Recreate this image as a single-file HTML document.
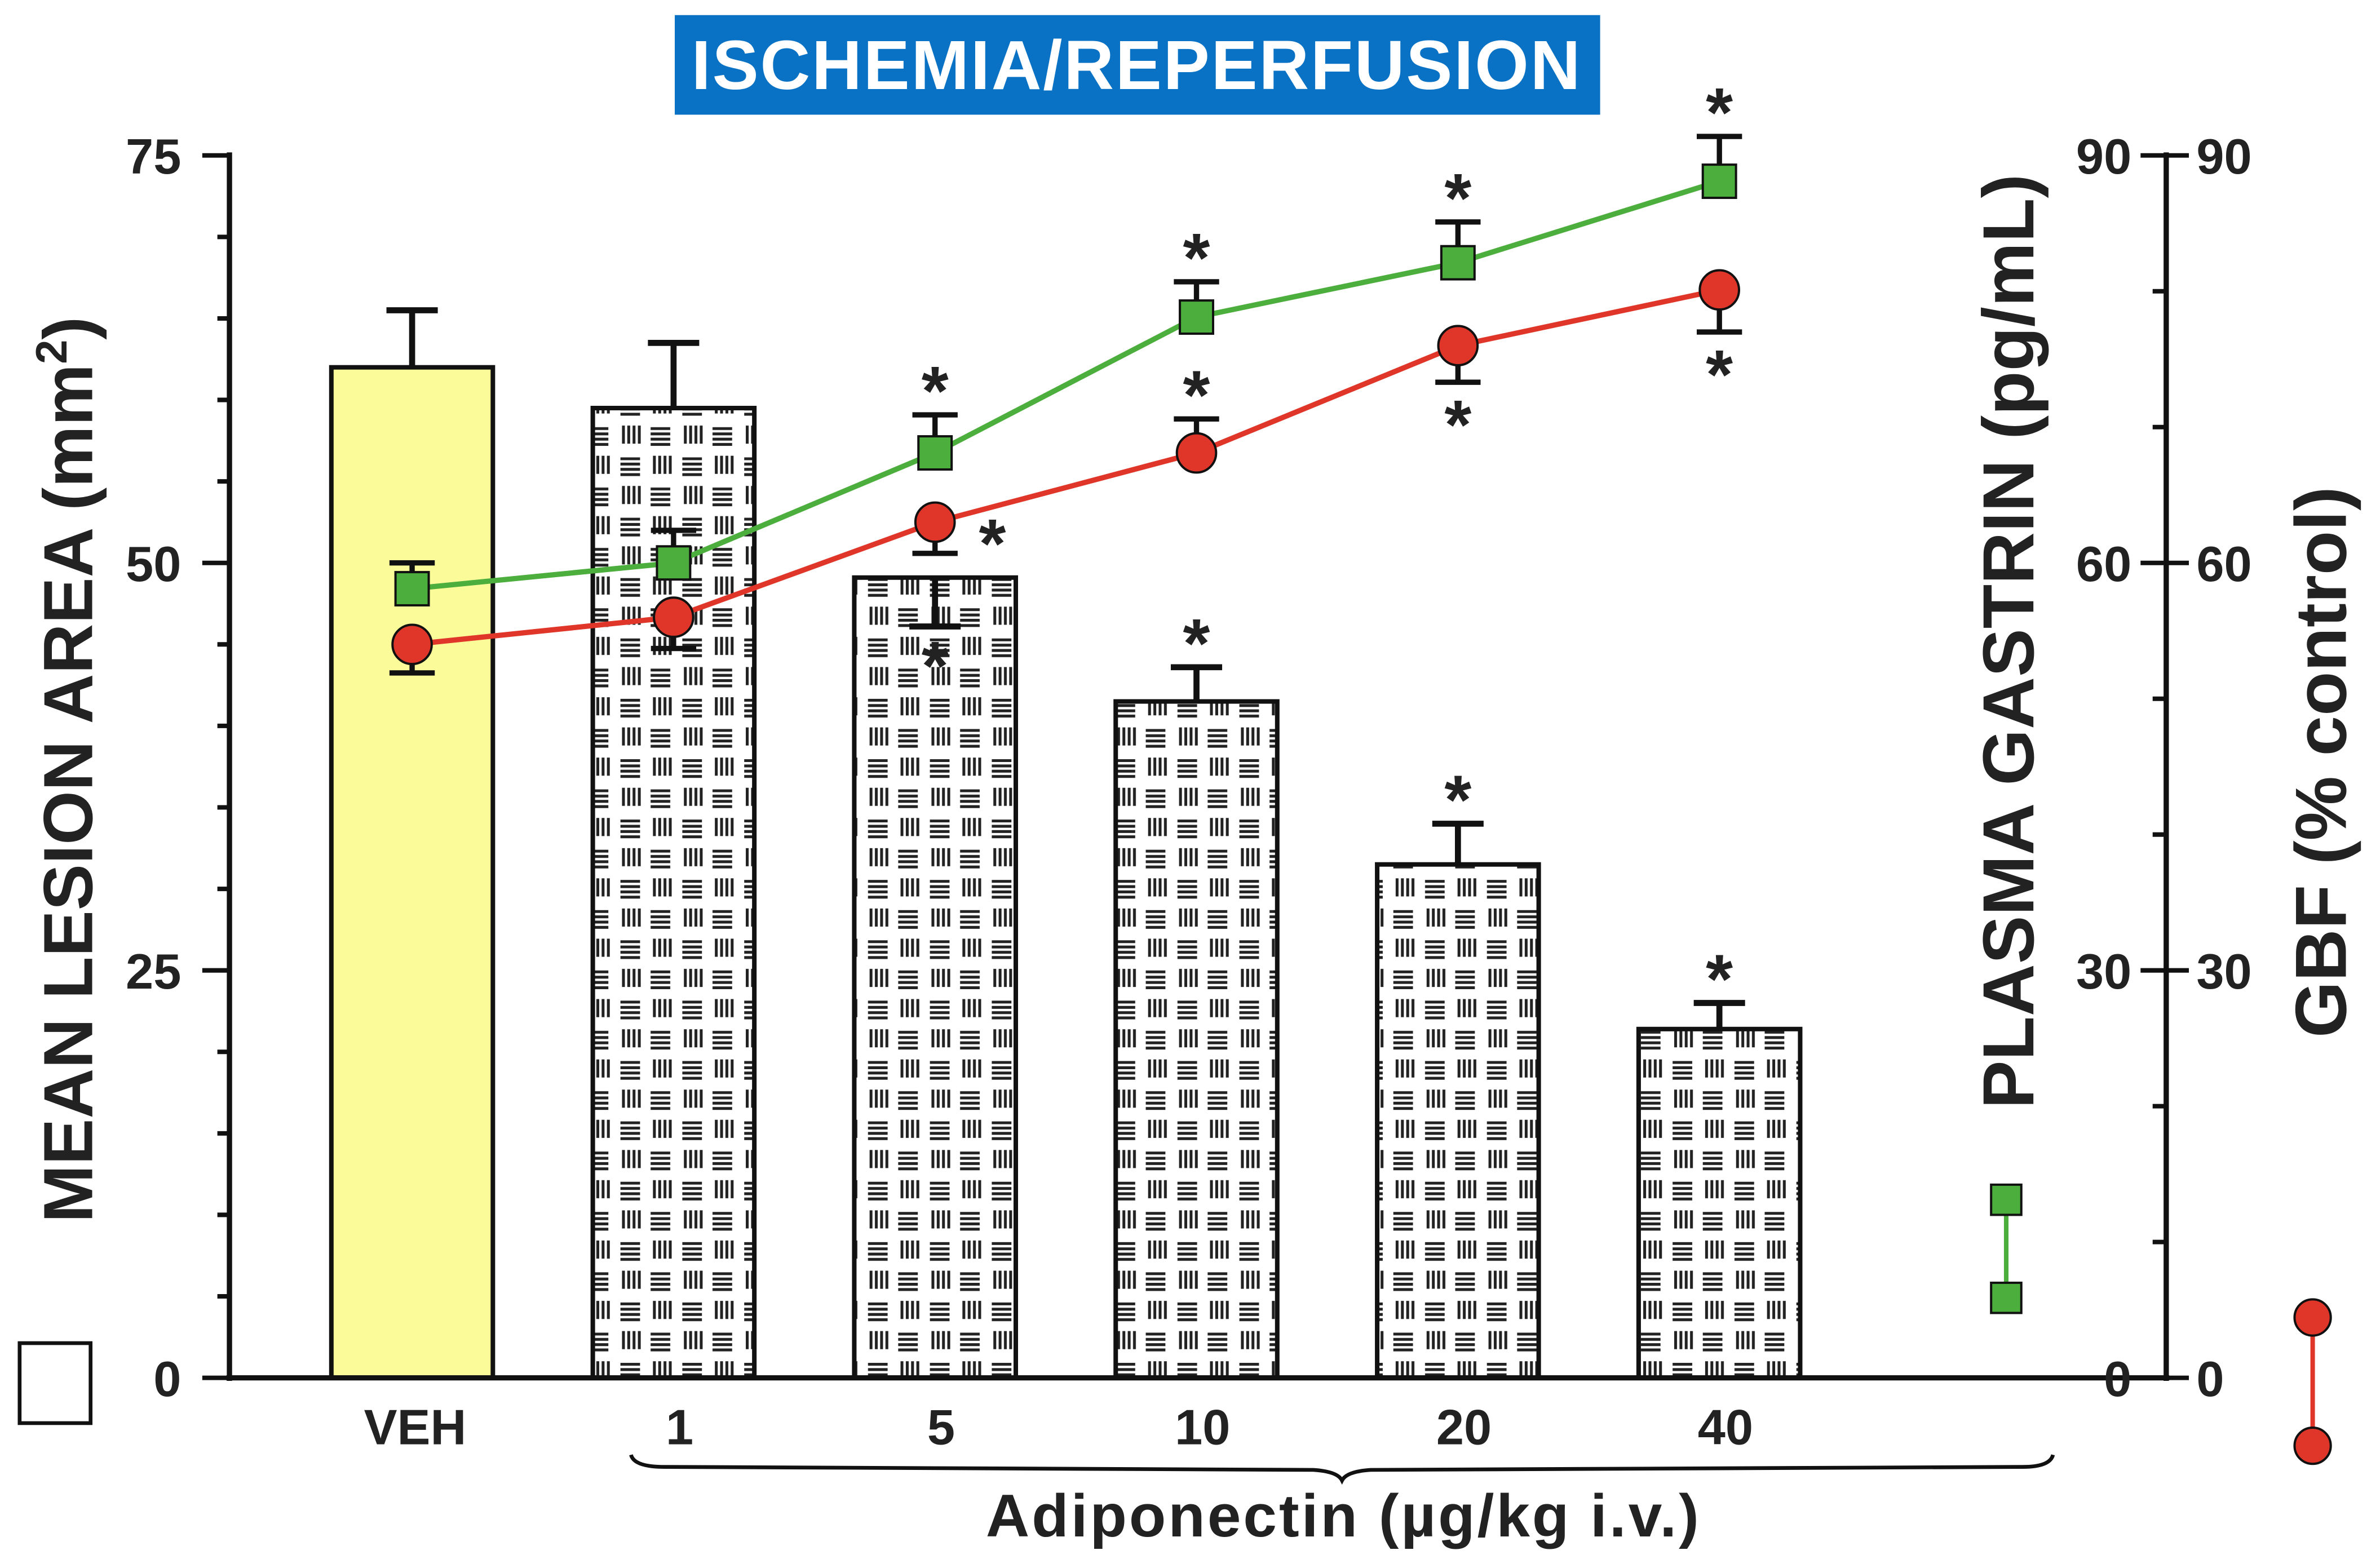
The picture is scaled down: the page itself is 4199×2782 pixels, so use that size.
<!DOCTYPE html>
<html><head><meta charset="utf-8"><style>
html,body{margin:0;padding:0;background:#fff;}
svg{display:block;}
text{font-family:"Liberation Sans",sans-serif;font-weight:bold;fill:#222;}
</style></head><body>
<svg id="chart" width="4199" height="2782" viewBox="0 0 1568 1039" preserveAspectRatio="none" xmlns="http://www.w3.org/2000/svg">
<defs>
<pattern id="hatch" patternUnits="userSpaceOnUse" width="41" height="40" x="0" y="0">
<g stroke="#222" stroke-width="1.9">
<path d="M3 2v12M6.5 2v12M10 2v12M13.5 2v12"/>
<path d="M21 4h13M21 7.5h13M21 11h13M21 14.5h13"/>
<path d="M23.5 22v12M27 22v12M30.5 22v12M34 22v12"/>
<path d="M1 24h13M1 27.5h13M1 31h13M1 34.5h13"/>
</g>
</pattern>
</defs>
<rect x="447" y="10" width="613" height="66" fill="#0a72c4"/>
<text x="753" y="59" font-size="46" letter-spacing="1" text-anchor="middle" style="fill:#fff">ISCHEMIA/REPERFUSION</text>
<g id="bars"></g>
<g id="lines"></g>
<g id="axes" stroke="#111" stroke-width="3.5" fill="none">
<line x1="152" y1="101" x2="152" y2="915"/>
<line x1="150" y1="913" x2="1437" y2="913"/>
<line x1="1435" y1="101" x2="1435" y2="915"/>
</g>
<g id="ticks" stroke="#111" stroke-width="3"></g>
<g id="ticklabels"></g>
<text transform="translate(61,510) rotate(-90)" font-size="46" text-anchor="middle">MEAN LESION AREA (mm<tspan font-size="29" dy="-17">2</tspan><tspan dy="17">)</tspan></text>
<text transform="translate(1347,425) rotate(-90)" font-size="48" text-anchor="middle">PLASMA GASTRIN (pg/mL)</text>
<text transform="translate(1554,505) rotate(-90)" font-size="48" text-anchor="middle">GBF (% control)</text>
<rect x="13" y="890" width="47" height="53" fill="#fff" stroke="#111" stroke-width="2.5"/>
<g>
<line x1="1329" y1="795" x2="1329" y2="860" stroke="#4cae3c" stroke-width="3"/>
<rect x="1319" y="785" width="20" height="20" fill="#4cae3c" stroke="#111" stroke-width="1.5"/>
<rect x="1319" y="850" width="20" height="20" fill="#4cae3c" stroke="#111" stroke-width="1.5"/>
</g>
<g>
<line x1="1532" y1="873" x2="1532" y2="958" stroke="#e0362a" stroke-width="3"/>
<circle cx="1532" cy="873" r="12" fill="#e0362a" stroke="#111" stroke-width="1.5"/>
<circle cx="1532" cy="958" r="12" fill="#e0362a" stroke="#111" stroke-width="1.5"/>
</g>
<path d="M418 964 Q420 972 440 972 L870 974 Q886 975 889 981 Q892 975 908 974 L1340 972 Q1358 972 1360 964" fill="none" stroke="#111" stroke-width="2.5"/>
<text x="890" y="1018" font-size="40" letter-spacing="1.5" text-anchor="middle">Adiponectin (µg/kg i.v.)</text>
<g id="xlabels"></g>
<g id="stars"></g>
</svg>
<script>
const categories = ["VEH","1","5","10","20","40"];
const lesion = [62, 59.5, 49.1, 41.5, 31.5, 21.4];
const lesionErr = [3.5, 4.0, 3.0, 2.1, 2.5, 1.6];
const lesionErrDir = [1, 1, -1, 1, 1, 1];
const gastrin = [58.1, 60, 68.1, 78.1, 82.1, 88.1];
const gastrinErr = [1.9, 2.4, 2.8, 2.6, 3.0, 3.3];
const gbf = [54, 56, 63, 68.1, 76, 80.1];
const gbfErr = [2.1, 2.3, 2.3, 2.5, 2.7, 3.1];
const gbfErrDir = [-1, -1, -1, 1, -1, -1];
const leftTicks = [0, 25, 50, 75];
const rightTicks = [0, 30, 60, 90];
const lesionStars = [false, false, true, true, true, true];
const gastrinStars = [false, false, true, true, true, true];
const gbfStars = [false, false, true, true, true, true];

const NS = "http://www.w3.org/2000/svg";
const yL = v => 913 - v / 75 * 810;
const yR = v => 913 - v / 90 * 810;
const xC = i => 273 + i * 173.2;
function mk(tag, attrs, parent) {
  const e = document.createElementNS(NS, tag);
  for (const k in attrs) e.setAttribute(k, attrs[k]);
  document.getElementById(parent).appendChild(e);
  return e;
}
function star(x, y, name) {
  const t = mk("text", {x: x, y: y + 22, "font-size": 46, "text-anchor": "middle"}, "stars");
  t.textContent = "*";
  
  
}
categories.forEach((c, i) => {
  const x = xC(i) - 53.5, top = yL(lesion[i]);
  const r = mk("rect", {x: x, y: top, width: 107, height: 913 - top, fill: i === 0 ? "#fbfb9a" : "url(#hatch)", stroke: "#111", "stroke-width": 3}, "bars");
  
  
  const ey = yL(lesion[i] + lesionErrDir[i] * lesionErr[i]);
  const eb = mk("path", {d: `M${xC(i)} ${top}V${ey}M${xC(i)-17} ${ey}H${xC(i)+17}`, stroke: "#111", "stroke-width": 4, fill: "none"}, "bars");
  
  
  if (lesionStars[i]) star(xC(i), lesionErrDir[i] > 0 ? ey - 22 : ey + 20, 'lesion-significance-star');
  const xl = mk("text", {x: xC(i) + (i === 0 ? 2 : 4), y: 957, "font-size": 33, "text-anchor": "middle"}, "xlabels");
  xl.textContent = c;
  
  
});
function series(vals, errs, dirs, color, kind, name, stars) {
  const pts = vals.map((v, i) => [xC(i), yR(v)]);
  const pl = mk("polyline", {points: pts.map(p => p.join(",")).join(" "), fill: "none", stroke: color, "stroke-width": 3.5}, "lines");
  
  
  vals.forEach((v, i) => {
    const d = dirs ? dirs[i] : 1;
    const ey = yR(v + d * errs[i]);
    const eb = mk("path", {d: `M${xC(i)} ${yR(v)}V${ey}M${xC(i)-15} ${ey}H${xC(i)+15}`, stroke: "#111", "stroke-width": 3.5, fill: "none"}, "lines");
    
    
  });
  vals.forEach((v, i) => {
    let m;
    if (kind === "sq") m = mk("rect", {x: xC(i) - 11, y: yR(v) - 11, width: 22, height: 22, fill: color, stroke: "#111", "stroke-width": 1.5}, "lines");
    else m = mk("circle", {cx: xC(i), cy: yR(v), r: 13, fill: color, stroke: "#111", "stroke-width": 1.5}, "lines");
    
    
    if (stars[i]) {
      const d = dirs ? dirs[i] : 1;
      const ey = yR(v + d * errs[i]);
      if (name === 'gbf' && i === 2) star(xC(i) + 38, yR(v) + 8, name + '-significance-star');
      else star(xC(i), d > 0 ? ey - 22 : ey + 22, name + '-significance-star');
    }
  });
}
series(gastrin, gastrinErr, null, "#4cae3c", "sq", "gastrin", gastrinStars);
series(gbf, gbfErr, gbfErrDir, "#e0362a", "ci", "gbf", gbfStars);
for (let v = 0; v <= 75; v += 5) {
  const major = leftTicks.includes(v);
  const t = mk("line", {x1: major ? 134 : 144, x2: 152, y1: yL(v), y2: yL(v)}, "ticks");
  
  
}
for (let v = 0; v <= 90; v += 10) {
  const major = rightTicks.includes(v);
  const t = mk("line", {x1: major ? 1418 : 1426, x2: major ? 1450 : 1435, y1: yR(v), y2: yR(v)}, "ticks");
  
  
}
leftTicks.forEach(v => {
  const t = mk("text", {x: 120, y: yL(v) + 12, "font-size": 33, "text-anchor": "end"}, "ticklabels");
  t.textContent = v;
  
  
});
rightTicks.forEach(v => {
  const t = mk("text", {x: 1412, y: yR(v) + 12, "font-size": 33, "text-anchor": "end"}, "ticklabels");
  t.textContent = v;
  
  
  const t2 = mk("text", {x: 1455, y: yR(v) + 12, "font-size": 33, "text-anchor": "start"}, "ticklabels");
  t2.textContent = v;
  
  
});
</script>
</body></html>
